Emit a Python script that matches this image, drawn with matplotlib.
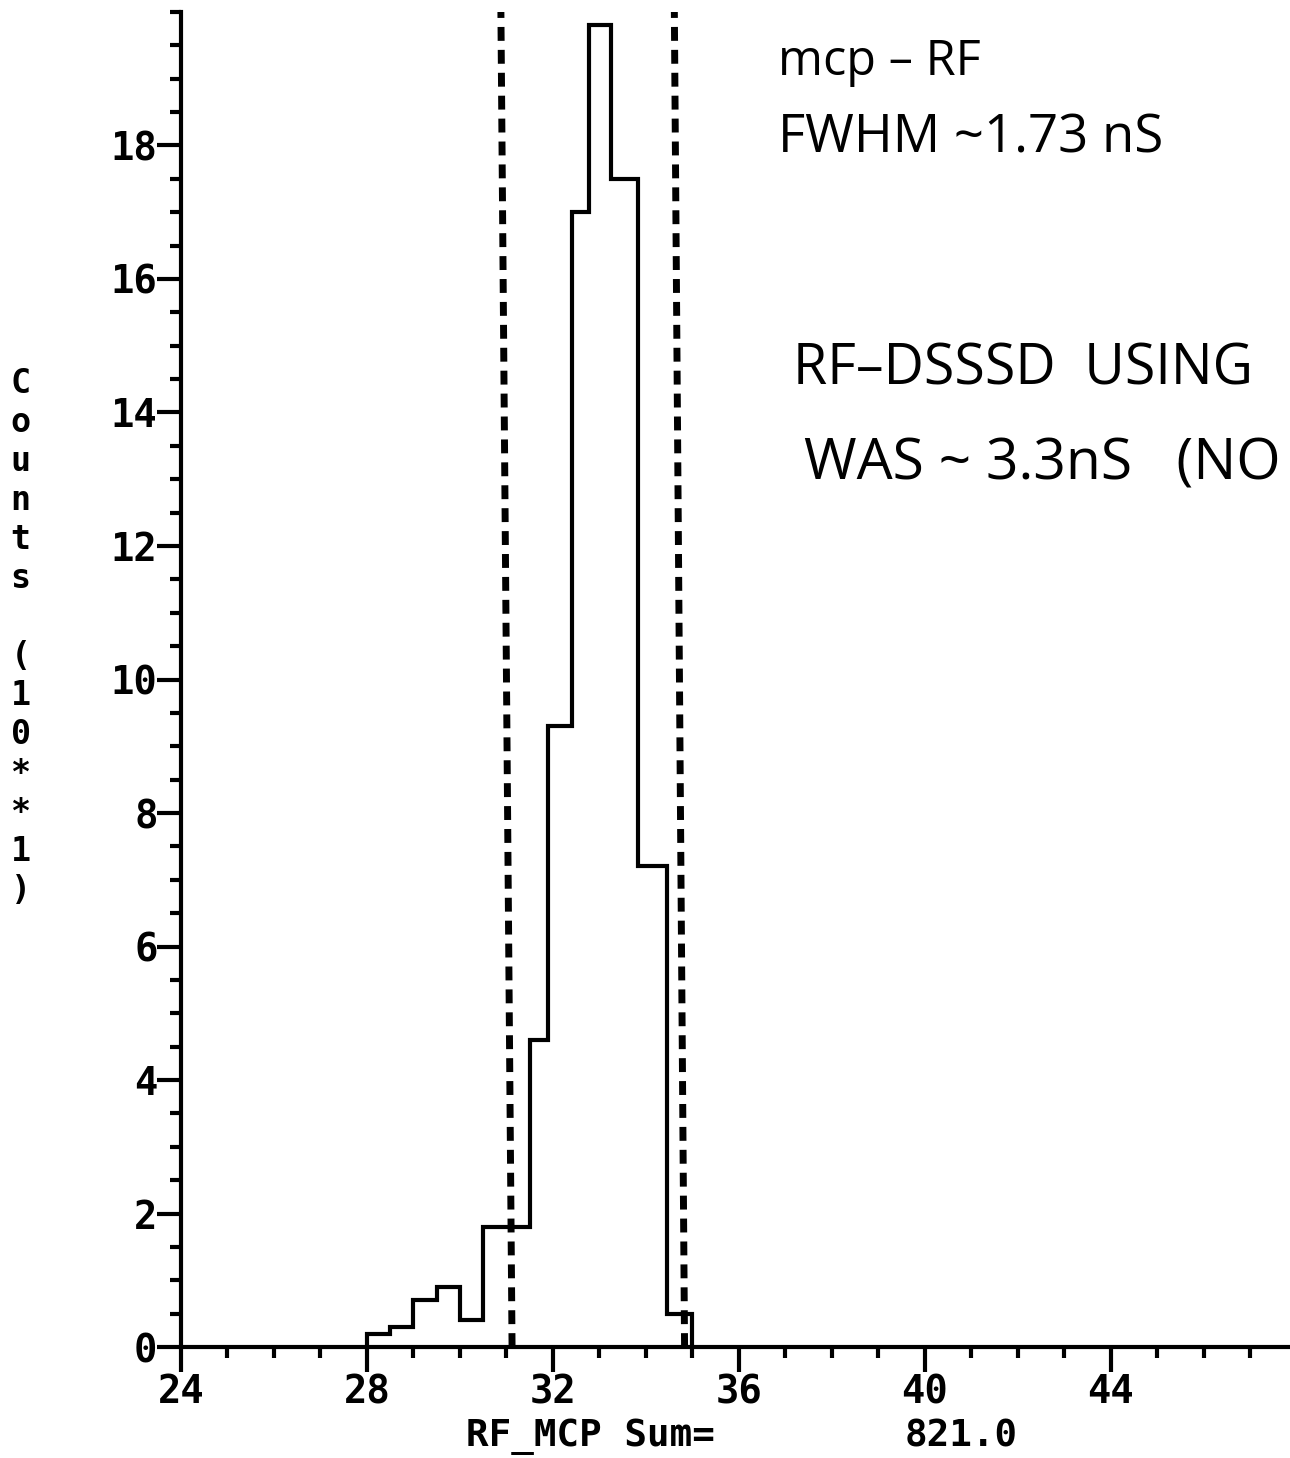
import numpy as np
import matplotlib
matplotlib.use('Agg')
import matplotlib.pyplot as plt
from matplotlib.ticker import MultipleLocator

# histogram data (counts in units of 10)
bin_edges = [28.0, 28.5, 29.0, 29.5, 30.0, 30.5, 31.0, 31.5, 31.9, 32.4,
             32.78, 33.24, 33.83, 34.45, 35.0]
counts = [0.2, 0.3, 0.7, 0.9, 0.4, 1.8, 1.8, 4.6, 9.3, 17.0, 19.8, 17.5, 7.2, 0.5]

# gate lines (drawn by hand, slightly tilted)
gate_y = [0, 20]
gate_low_x = [31.12, 30.88]
gate_high_x = [34.83, 34.61]

x_major = [24, 28, 32, 36, 40, 44]
y_major = [0, 2, 4, 6, 8, 10, 12, 14, 16, 18]

mono = 'DejaVu Sans Mono'

fig = plt.figure(figsize=(12.9, 14.58), dpi=100)
ax = fig.add_axes([0.1403, 0.0761, 0.8597, 0.9157])

ax.stairs(counts, bin_edges, baseline=0, color='black', lw=3)

ax.plot(gate_low_x, gate_y, color='black', lw=5, dashes=(2.0, 1.3))
ax.plot(gate_high_x, gate_y, color='black', lw=5, dashes=(2.0, 1.3))

ax.set_xlim(24, 47.85)
ax.set_ylim(0, 20)

for s in ['top', 'right']:
    ax.spines[s].set_visible(False)
for s in ['left', 'bottom']:
    ax.spines[s].set_linewidth(3)

ax.set_xticks(x_major)
ax.set_yticks(y_major)
ax.xaxis.set_minor_locator(MultipleLocator(1))
ax.yaxis.set_minor_locator(MultipleLocator(0.5))
ax.tick_params(which='major', length=18, width=3, direction='out', pad=1)
ax.tick_params(which='minor', length=8, width=3, direction='out')
ax.tick_params(axis='y', which='major', length=17, pad=0)

for lab in ax.get_xticklabels() + ax.get_yticklabels():
    lab.set_fontfamily(mono)
    lab.set_fontweight('bold')
    lab.set_fontsize(28)

# stacked y-axis label
ylab = 'Counts (10**1)'
fig.text(0.016, 0.748, '\n'.join(ylab), ha='center', va='top', fontfamily=mono,
         fontweight='bold', fontsize=24, linespacing=1.23)

fig.text(0.458, 0.008, 'RF_MCP Sum=', ha='center', va='baseline', fontfamily=mono,
         fontweight='bold', fontsize=27)
fig.text(0.745, 0.008, '821.0', ha='center', va='baseline', fontfamily=mono,
         fontweight='bold', fontsize=27)

# handwritten notes
hand = 'Open Sans'
fig.text(0.603, 0.957, 'mcp \u2013 RF', fontfamily=hand, fontsize=35, va='center')
fig.text(0.603, 0.905, 'FWHM ~1.73 nS', fontfamily=hand, fontsize=38, va='center')
fig.text(0.615, 0.746, 'RF\u2013DSSSD  USING', fontfamily=hand, fontsize=40, va='center')
fig.text(0.623, 0.681, 'WAS ~ 3.3nS   (NO', fontfamily=hand, fontsize=41, va='center')

fig.savefig('out.png', dpi=100)
